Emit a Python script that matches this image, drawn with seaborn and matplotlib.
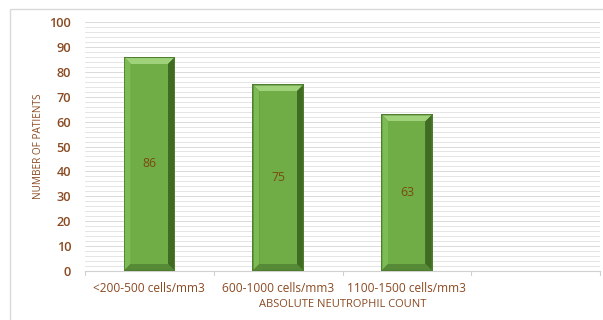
import matplotlib
matplotlib.use("Agg")
import matplotlib.pyplot as plt
from matplotlib.patches import Polygon, Rectangle
import numpy as np
import pandas as pd
import seaborn as sns

categories = ["<200-500 cells/mm3", "600-1000 cells/mm3", "1100-1500 cells/mm3", ""]
patients = [86, 75, 63, 0]
y_ticks = [0, 10, 20, 30, 40, 50, 60, 70, 80, 90, 100]

BROWN = "#8a4a22"
LABEL_BROWN = "#7a4a10"

sns.set_theme(style="white")
plt.rcParams["font.family"] = ["Open Sans", "DejaVu Sans"]

df = pd.DataFrame({"range": categories, "count": patients})

fig = plt.figure(figsize=(6.03, 3.20), dpi=100)
ax = fig.add_axes([85 / 603, 1 - 271 / 320, (600 - 85) / 603, (271 - 22) / 320])

sns.barplot(data=df, x="range", y="count", ax=ax, color="#70ad47",
            width=0.4, saturation=1, edgecolor="none", zorder=3)

ax.set_xlim(-0.5, len(categories) - 0.5)
ax.set_ylim(0, 100)
ax.set_yticks(y_ticks)

# faint grid lines every 2 units
for v in np.arange(2, 101, 2):
    ax.axhline(v, color="#e4e4e4" if v % 10 else "#dadada", lw=0.7, zorder=0)

for s in ["top", "right", "left"]:
    ax.spines[s].set_visible(False)
ax.spines["bottom"].set_color("#d0d0d0")
ax.spines["bottom"].set_linewidth(0.8)

# category boundary ticks on the x axis
for b in np.arange(-0.5, len(categories), 1.0):
    ax.plot([b, b], [0, -1.6], color="#d0d0d0", lw=0.8, clip_on=False, zorder=1)

ax.set_xticks(range(len(categories)))
ax.set_xticklabels(categories, color=BROWN, fontsize=8.6)
ax.tick_params(axis="x", length=0, pad=8)
ax.tick_params(axis="y", length=0, pad=10, labelsize=9.2, labelcolor=BROWN)
for t in ax.get_yticklabels():
    t.set_fontweight("semibold")

ax.set_xlabel("ABSOLUTE NEUTROPHIL COUNT", color=BROWN, fontsize=8, labelpad=3)
ax.set_ylabel("NUMBER OF PATIENTS", color=BROWN, fontsize=7.2, labelpad=4)

# bevelled look for each bar, built from the drawn bar geometry
px_x = (ax.get_xlim()[1] - ax.get_xlim()[0]) / (600 - 85)
px_y = 100 / (271 - 22)
for patch, val in zip(ax.patches, patients):
    if val <= 0:
        continue
    x0, y0 = patch.get_x(), patch.get_y()
    w, h = patch.get_width(), patch.get_height()
    x1, y1 = x0 + w, y0 + h
    rim_x, rim_y = 1.2 * px_x, 1.2 * px_y
    bx, by = 6 * px_x, 6 * px_y
    patch.set_facecolor("#4f7f2e")
    ox0, oy0, ox1, oy1 = x0 + rim_x, y0 + rim_y, x1 - rim_x, y1 - rim_y
    ix0, iy0, ix1, iy1 = ox0 + bx, oy0 + by, ox1 - bx, oy1 - by
    faces = [
        ([(ox0, oy1), (ox1, oy1), (ix1, iy1), (ix0, iy1)], "#9fd27a"),  # top
        ([(ox0, oy0), (ox0, oy1), (ix0, iy1), (ix0, iy0)], "#7dbb55"),  # left
        ([(ox1, oy0), (ox1, oy1), (ix1, iy1), (ix1, iy0)], "#3f6b22"),  # right
        ([(ox0, oy0), (ox1, oy0), (ix1, iy0), (ix0, iy0)], "#568a36"),  # bottom
    ]
    for pts, col in faces:
        ax.add_patch(Polygon(pts, closed=True, facecolor=col, edgecolor="none", zorder=4))
    ax.add_patch(Rectangle((ix0, iy0), ix1 - ix0, iy1 - iy0,
                           facecolor="#70ad47", edgecolor="none", zorder=4))
    ax.text(x0 + w / 2, val / 2, f"{val}", ha="center", va="center",
            color=LABEL_BROWN, fontsize=8.8, fontweight="medium", zorder=5)

# light frame around the chart area
fig.add_artist(Rectangle((10 / 603, -0.05), 2, 1 - 9 / 320 + 0.05,
                         transform=fig.transFigure, fill=False,
                         edgecolor="#d9d9d9", lw=1.0))

fig.savefig("out.png", dpi=100, facecolor="white")
